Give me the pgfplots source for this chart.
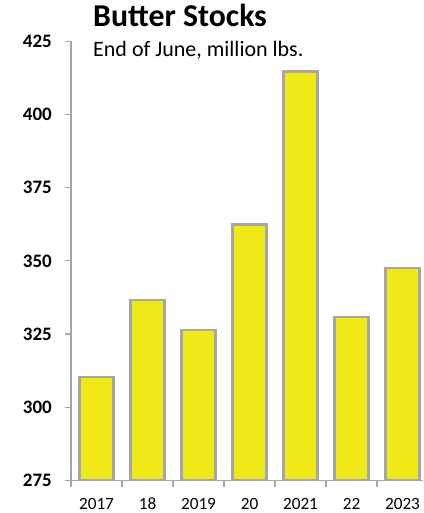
\documentclass[border=0pt]{standalone}
\usepackage{pgfplots}
\pgfplotsset{compat=1.18}
\usepackage{fontspec}
\setmainfont{Carlito}

\definecolor{butter}{RGB}{240,232,23}
\definecolor{barline}{RGB}{166,166,166}
\definecolor{axisgray}{RGB}{166,166,166}

\begin{document}
\begin{tikzpicture}
\path[use as bounding box] (0pt,0pt) rectangle (423pt,513pt);
\begin{axis}[
  at={(71pt,32.5pt)}, anchor=south west,
  scale only axis,
  width=352pt, height=439.3pt,
  xmin=-0.5, xmax=6.402,
  ymin=275, ymax=425,
  ytick={275,300,...,425},
  % ticks between the years, year labels under each bar
  xtick={-0.5,0.5,...,5.5},
  xticklabels={},
  extra x ticks={0,...,6},
  extra x tick labels={2017,18,2019,20,2021,22,2023},
  extra x tick style={major tick length=0pt},
  axis x line*=bottom, axis y line*=left,
  axis line style={draw=axisgray, line width=1.5pt, -},
  tick align=outside,
  major tick length=6pt,
  tick style={axisgray, line width=1.3pt},
  /pgf/number format/assume math mode=true,
  yticklabel style={font=\fontsize{19}{19}\selectfont\bfseries, anchor=east, inner sep=0pt, xshift=-13pt},
  xticklabel style={font=\fontsize{17.2}{17.2}\selectfont, anchor=base, inner sep=0pt, yshift=-29pt},
  axis on top,
  ybar, bar width=34.2pt,
]
\addplot[fill=butter, draw=barline, line width=2.5pt] coordinates {
  (0,310.3) (1,336.7) (2,326.4) (3,362.4) (4,414.6) (5,330.9) (6,347.6)
};
\end{axis}
\node[anchor=base west, inner sep=0pt, font=\fontsize{31.8}{31.8}\selectfont\bfseries] at (93pt,486.3pt) {Butter Stocks};
\node[anchor=base west, inner sep=0pt, font=\fontsize{22}{22}\selectfont] at (93pt,456.3pt) {End of June, million lbs.};
\end{tikzpicture}
\end{document}
